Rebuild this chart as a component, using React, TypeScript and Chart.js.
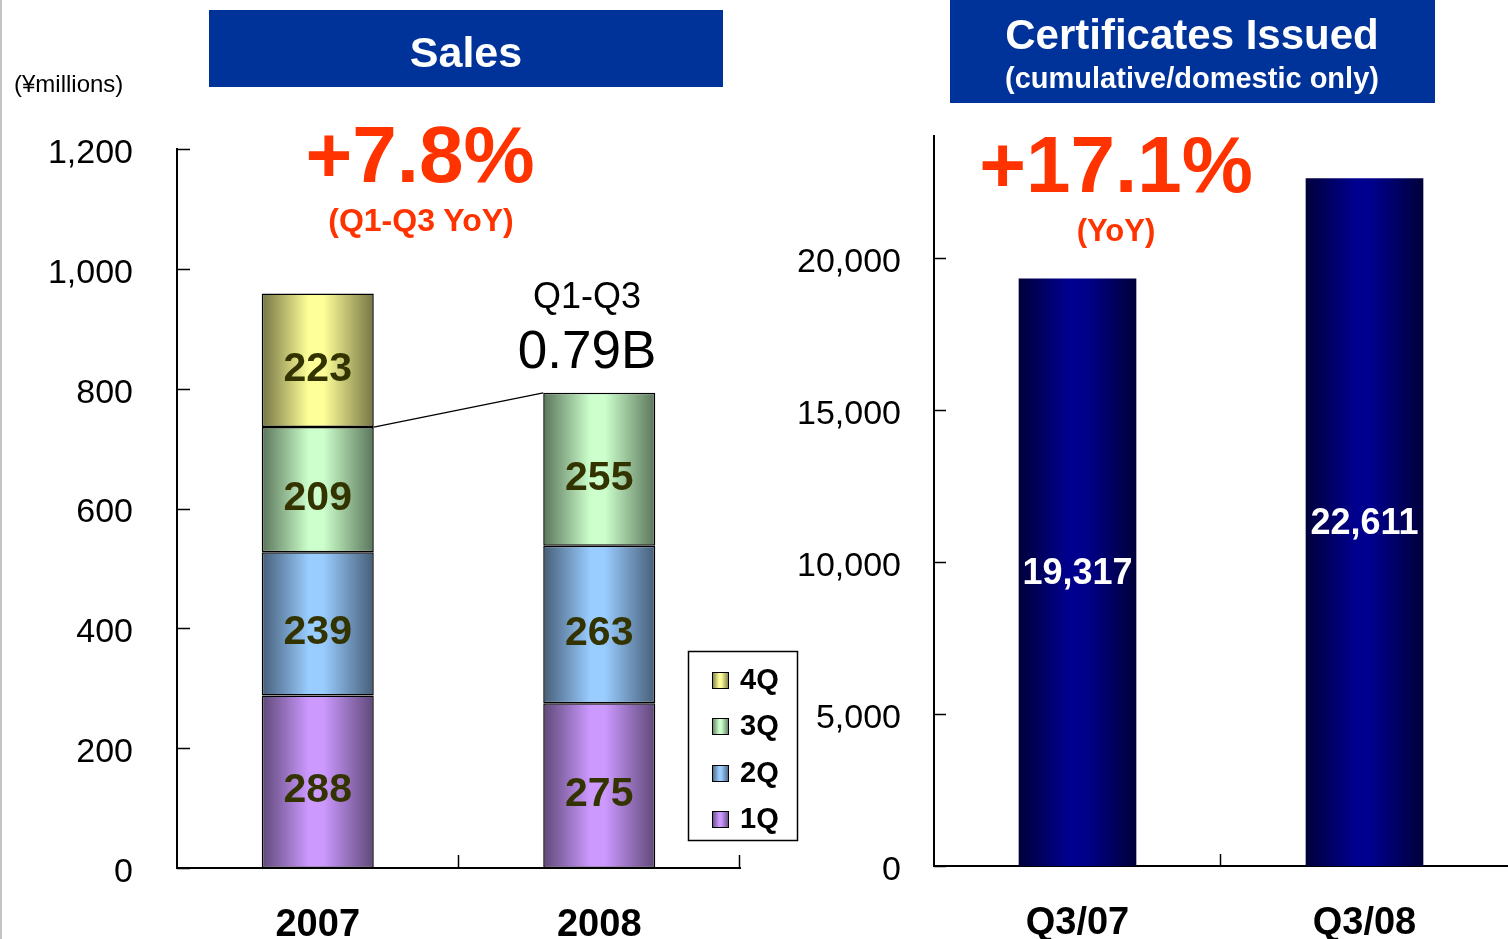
import React, { useEffect, useRef } from "react";
import { Chart, registerables } from "chart.js";
Chart.register(...registerables);

// ---------- data ----------
const salesYears = ["2007", "2008"];
const sales1Q = [288, 275];
const sales2Q = [239, 263];
const sales3Q = [209, 255];
const sales4Q: (number | null)[] = [223, null];
const quarterNames = ["1Q", "2Q", "3Q", "4Q"];
const salesTickValues = [0, 200, 400, 600, 800, 1000, 1200];

const certCategories = ["Q3/07", "Q3/08"];
const certValues = [19317, 22611];
const certTickValues = [0, 5000, 10000, 15000, 20000];

// ---------- styles ----------
const FONT = "'Liberation Sans', Arial, Helvetica, sans-serif";
const quarterLight = ["#CC99FF", "#99CCFF", "#CCFFCC", "#FFFF99"];
const quarterDark = ["#5e4878", "#465e78", "#5a755a", "#757545"];
const SALES_BAR_PCT = 0.398;
const CERT_BAR_PCT = 0.41;

function hGrad(ctx: CanvasRenderingContext2D, l: number, r: number, dark: string, light: string) {
  const g = ctx.createLinearGradient(l, 0, r, 0);
  g.addColorStop(0, dark);
  g.addColorStop(0.42, light);
  g.addColorStop(0.55, light);
  g.addColorStop(1, dark);
  return g;
}

function barGradient(dark: string, light: string, pct: number, n: number) {
  return (c: any) => {
    const chart = c.chart;
    const xs = chart.scales?.x;
    if (!chart.chartArea || !xs || c.dataIndex === undefined) return light;
    const center = xs.getPixelForValue(c.dataIndex);
    const half = ((xs.width / n) * pct) / 2;
    return hGrad(chart.ctx, center - half, center + half, dark, light);
  };
}

const fmt = (v: any) => Number(v).toLocaleString("en-US");
// two-line label (empty first line) nudges the label slightly downward, as in the reference
const fmtLow = (v: any) => ["", fmt(v)];

function Txt(props: { cx: number; cy: number; size: number; bold?: boolean; color?: string; text: string; align?: string; left?: number }) {
  const { cx, cy, size, bold, color, text, align, left } = props;
  const style: any = {
    position: "absolute",
    top: cy - size,
    height: size * 2,
    lineHeight: `${size * 2}px`,
    fontSize: size,
    fontFamily: FONT,
    fontWeight: bold ? "bold" : "normal",
    color: color || "#000",
    whiteSpace: "nowrap",
  };
  if (align === "left") {
    style.left = left;
  } else {
    style.left = cx - 400;
    style.width = 800;
    style.textAlign = "center";
  }
  return <div style={style}>{text}</div>;
}

export default function App() {
  const salesRef = useRef<HTMLCanvasElement>(null);
  const certRef = useRef<HTMLCanvasElement>(null);

  useEffect(() => {
    const salesData = [sales1Q, sales2Q, sales3Q, sales4Q];

    const salesPlugin = {
      id: "salesDeco",
      afterDatasetsDraw(chart: any) {
        const ctx = chart.ctx as CanvasRenderingContext2D;
        const xs = chart.scales.x;
        const ys = chart.scales.y;
        ctx.save();
        // inward ticks
        ctx.strokeStyle = "#000";
        ctx.lineWidth = 1.5;
        salesTickValues.forEach((v) => {
          const y = Math.round(ys.getPixelForValue(v)) + 0.5;
          ctx.beginPath();
          ctx.moveTo(xs.left, y);
          ctx.lineTo(xs.left + 13, y);
          ctx.stroke();
        });
        const step = xs.width / salesYears.length;
        for (let i = 1; i <= salesYears.length; i++) {
          const x = Math.round(xs.left + i * step) - 0.5;
          ctx.beginPath();
          ctx.moveTo(x, ys.bottom);
          ctx.lineTo(x, ys.bottom - 13);
          ctx.stroke();
        }
        // connector line
        const m3 = chart.getDatasetMeta(2).data;
        const a = m3[0].getProps(["x", "y", "width"], true);
        const b = m3[1].getProps(["x", "y", "width"], true);
        ctx.lineWidth = 1.3;
        ctx.beginPath();
        ctx.moveTo(a.x + a.width / 2, a.y);
        ctx.lineTo(b.x - b.width / 2, b.y);
        ctx.stroke();
        // data labels
        ctx.font = `bold 41px ${FONT}`;
        ctx.fillStyle = "#333300";
        ctx.textAlign = "center";
        ctx.textBaseline = "middle";
        chart.data.datasets.forEach((ds: any, di: number) => {
          const meta = chart.getDatasetMeta(di);
          meta.data.forEach((el: any, i: number) => {
            const v = ds.data[i];
            if (v === null || v === undefined) return;
            const p = el.getProps(["x", "y", "base"], true);
            ctx.fillText(String(v), p.x, (p.y + p.base) / 2 + 9);
          });
        });
        // legend
        ctx.fillStyle = "#fff";
        ctx.fillRect(688, 651, 110, 190);
        ctx.strokeStyle = "#000";
        ctx.lineWidth = 1.5;
        ctx.strokeRect(688.5, 651.5, 109, 189);
        const rowsY = [680, 726, 773, 819];
        ctx.font = `bold 29px ${FONT}`;
        ctx.textAlign = "left";
        for (let r = 0; r < 4; r++) {
          const qi = 3 - r;
          const y = rowsY[r];
          ctx.fillStyle = hGrad(ctx, 712, 729, quarterDark[qi], quarterLight[qi]);
          ctx.fillRect(712, y - 8, 17, 17);
          ctx.strokeStyle = "#000";
          ctx.lineWidth = 1;
          ctx.strokeRect(712.5, y - 7.5, 16, 16);
          ctx.fillStyle = "#000";
          ctx.fillText(quarterNames[qi], 740, y + 1);
        }
        ctx.restore();
      },
    };

    const salesChart = new Chart(salesRef.current!, {
      type: "bar",
      data: {
        labels: salesYears,
        datasets: salesData.map((d, i) => ({
          label: quarterNames[i],
          data: d as any,
          backgroundColor: barGradient(quarterDark[i], quarterLight[i], SALES_BAR_PCT, salesYears.length),
          borderColor: "#000",
          borderWidth: 1.5,
          borderSkipped: false,
          barPercentage: SALES_BAR_PCT,
          categoryPercentage: 1,
        })),
      },
      options: {
        responsive: false,
        animation: false,
        events: [],
        layout: { padding: { left: 0, top: 149, right: 768, bottom: 0 } },
        plugins: { legend: { display: false }, tooltip: { enabled: false } },
        scales: {
          x: {
            stacked: true,
            grid: { display: false, drawTicks: false },
            border: { display: true, color: "#000", width: 2 },
            ticks: { color: "#000", padding: 35, font: { family: FONT, size: 38, weight: "bold" } },
            afterFit: (s: any) => { s.height = 71; },
          },
          y: {
            stacked: true,
            min: 0,
            max: 1200,
            afterBuildTicks: (s: any) => { s.ticks = salesTickValues.map((v) => ({ value: v })); },
            grid: { display: false, drawTicks: false },
            border: { display: true, color: "#000", width: 2 },
            ticks: { color: "#000", padding: 44, font: { family: FONT, size: 34, lineHeight: "9px" }, callback: fmtLow },
            afterFit: (s: any) => { s.width = 177; },
          },
        },
      } as any,
      plugins: [salesPlugin],
    });

    const certPlugin = {
      id: "certDeco",
      afterDatasetsDraw(chart: any) {
        const ctx = chart.ctx as CanvasRenderingContext2D;
        const xs = chart.scales.x;
        const ys = chart.scales.y;
        ctx.save();
        ctx.strokeStyle = "#000";
        ctx.lineWidth = 1.5;
        certTickValues.forEach((v) => {
          const y = Math.round(ys.getPixelForValue(v)) + 0.5;
          ctx.beginPath();
          ctx.moveTo(xs.left, y);
          ctx.lineTo(xs.left + 12, y);
          ctx.stroke();
        });
        const step = xs.width / certCategories.length;
        for (let i = 1; i < certCategories.length; i++) {
          const x = Math.round(xs.left + i * step) - 0.5;
          ctx.beginPath();
          ctx.moveTo(x, ys.bottom);
          ctx.lineTo(x, ys.bottom - 12);
          ctx.stroke();
        }
        ctx.font = `bold 36px ${FONT}`;
        ctx.fillStyle = "#fff";
        ctx.textAlign = "center";
        ctx.textBaseline = "middle";
        const meta = chart.getDatasetMeta(0);
        meta.data.forEach((el: any, i: number) => {
          const p = el.getProps(["x", "y", "base"], true);
          ctx.fillText(fmt(certValues[i]), p.x, (p.y + p.base) / 2 + 2);
        });
        ctx.restore();
      },
    };

    const certChart = new Chart(certRef.current!, {
      type: "bar",
      data: {
        labels: certCategories,
        datasets: [
          {
            label: "Certificates",
            data: certValues,
            backgroundColor: barGradient("#00003a", "#00008e", CERT_BAR_PCT, certCategories.length),
            borderWidth: 0,
            barPercentage: CERT_BAR_PCT,
            categoryPercentage: 1,
          },
        ],
      },
      options: {
        responsive: false,
        animation: false,
        events: [],
        layout: { padding: { left: 0, top: 136, right: 0, bottom: 0 } },
        plugins: { legend: { display: false }, tooltip: { enabled: false } },
        scales: {
          x: {
            grid: { display: false, drawTicks: false },
            border: { display: true, color: "#000", width: 2 },
            ticks: { color: "#000", padding: 35, font: { family: FONT, size: 38, weight: "bold" } },
            afterFit: (s: any) => { s.height = 73; },
          },
          y: {
            min: 0,
            max: 24000,
            afterBuildTicks: (s: any) => { s.ticks = certTickValues.map((v) => ({ value: v })); },
            grid: { display: false, drawTicks: false },
            border: { display: true, color: "#000", width: 2 },
            ticks: { color: "#000", padding: 33, font: { family: FONT, size: 34, lineHeight: "10px" }, callback: fmtLow },
            afterFit: (s: any) => { s.width = 934; },
          },
        },
      } as any,
      plugins: [certPlugin],
    });

    return () => {
      salesChart.destroy();
      certChart.destroy();
    };
  }, []);

  return (
    <div style={{ position: "absolute", left: 0, top: 0, width: 1508, height: 939, overflow: "hidden", background: "#fff" }}>
      <canvas ref={salesRef} width={1508} height={939} style={{ position: "absolute", left: 0, top: 0, width: 1508, height: 939 }} />
      <canvas ref={certRef} width={1508} height={939} style={{ position: "absolute", left: 0, top: 0, width: 1508, height: 939 }} />
      <div style={{ position: "absolute", left: 0, top: 0, width: 2, height: 939, background: "#c4c4c4" }} />
      <div style={{ position: "absolute", left: 209, top: 10, width: 514, height: 77, background: "#003399" }} />
      <div style={{ position: "absolute", left: 950, top: 0, width: 485, height: 103, background: "#003399" }} />
      <Txt cx={466} cy={52} size={43} bold color="#fff" text="Sales" />
      <Txt cx={1192} cy={35} size={42} bold color="#fff" text="Certificates Issued" />
      <Txt cx={1192} cy={78} size={29} bold color="#fff" text="(cumulative/domestic only)" />
      <Txt cx={0} cy={84} size={24} text="(¥millions)" align="left" left={14} />
      <Txt cx={420} cy={155} size={80} bold color="#FF3300" text="+7.8%" />
      <Txt cx={421} cy={220} size={32} bold color="#FF3300" text="(Q1-Q3 YoY)" />
      <Txt cx={587} cy={296} size={36} text="Q1-Q3" />
      <Txt cx={587} cy={350} size={53} text="0.79B" />
      <Txt cx={1116} cy={165} size={80} bold color="#FF3300" text="+17.1%" />
      <Txt cx={1116} cy={231} size={31} bold color="#FF3300" text="(YoY)" />
    </div>
  );
}
